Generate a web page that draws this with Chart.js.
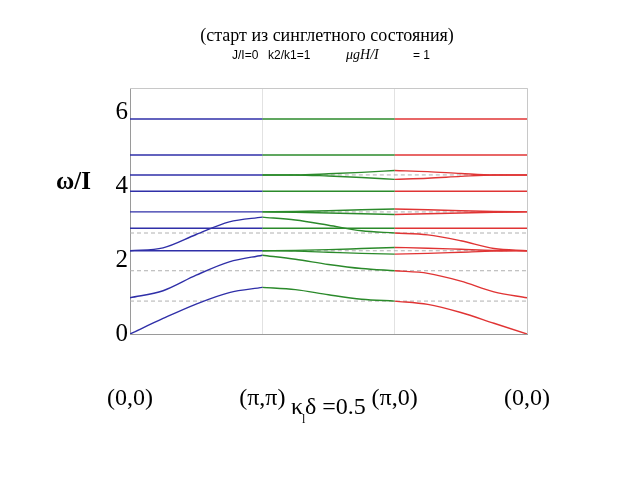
<!DOCTYPE html>
<html>
<head>
<meta charset="utf-8">
<script src="https://cdn.jsdelivr.net/npm/chart.js@4.4.1/dist/chart.umd.min.js"></script>
<style>
  html, body { margin: 0; padding: 0; background: #fff; }
  #wrap { width: 640px; height: 480px; }
</style>
</head>
<body>
<div id="wrap"><canvas id="c" width="640" height="480"></canvas></div>
<script>
// ---- data ----
const titleText = '(старт из синглетного состояния)';
const subtitleParts = ['J/I=0', 'k2/k1=1', 'μgH/I', '= 1'];
const yTitle = 'ω/I';
const kTicks = [0, 1, 2, 3];
const kLabels = ['(0,0)', '(π,π)', '(π,0)', '(0,0)'];
const yTicks = [0, 2, 4, 6];

// path positions (0..1 : (0,0)->(π,π), 1..2 : (π,π)->(π,0), 2..3 : (π,0)->(0,0))
const kPath = [0, 0.25, 0.5, 0.75, 1, 1.25, 1.5, 1.75, 2, 2.25, 2.5, 2.75, 3];
const branch1 = [0, 0.42, 0.81, 1.12, 1.26, 1.20, 1.06, 0.94, 0.89, 0.80, 0.58, 0.29, 0];
const branch2 = [0.98, 1.17, 1.59, 1.95, 2.13, 2.02, 1.88, 1.77, 1.71, 1.64, 1.43, 1.14, 0.98];
const branch3 = [2.25, 2.33, 2.69, 3.03, 3.16, 3.08, 2.94, 2.79, 2.73, 2.68, 2.52, 2.31, 2.25];

// flat levels
const flatLevels = [5.81, 4.84, 3.86, 2.86];
// levels that split between (π,π) and (0,0): path positions 1..3
const splitPath = [1, 1.25, 1.5, 1.75, 2, 2.25, 2.5, 2.75, 3];
const split43Up = [4.30, 4.30, 4.33, 4.37, 4.42, 4.39, 4.34, 4.30, 4.30];
const split43Dn = [4.30, 4.30, 4.27, 4.23, 4.18, 4.21, 4.26, 4.30, 4.30];
const split33Up = [3.30, 3.31, 3.33, 3.36, 3.38, 3.36, 3.33, 3.31, 3.30];
const split33Dn = [3.30, 3.29, 3.27, 3.25, 3.23, 3.25, 3.27, 3.29, 3.30];
const split22Up = [2.25, 2.26, 2.28, 2.31, 2.34, 2.32, 2.29, 2.26, 2.25];
const split22Dn = [2.25, 2.24, 2.21, 2.18, 2.16, 2.18, 2.21, 2.24, 2.25];
const splitLevels = [4.30, 3.30, 2.25];
// dashed reference levels
const dashedLevels = [0.89, 1.71, 2.73];

// ---- styles ----
const segColors = ['#2f2fa8', '#2b8a2b', '#e03434'];
const segBounds = [0, 1, 2, 3];

function pts(xs, ys) { return xs.map((x, i) => ({ x: x, y: ys[i] })); }
function sliceSeg(xs, ys, a, b) {
  const out = [];
  xs.forEach((x, i) => { if (x >= a && x <= b) out.push({ x: x, y: ys[i] }); });
  return out;
}

const datasets = [];
// dashed grey reference lines (behind)
dashedLevels.forEach(v => {
  datasets.push({ data: pts([0, 3], [v, v]), borderColor: '#b0b0b0', borderWidth: 1, borderDash: [4, 3], order: 20 });
});
splitLevels.forEach(v => {
  datasets.push({ data: pts([1.2, 2.85], [v, v]), borderColor: '#b0b0b0', borderWidth: 1, borderDash: [4, 3], order: 20 });
});
// coloured segments
for (let s = 0; s < 3; s++) {
  const a = segBounds[s], b = segBounds[s + 1], col = segColors[s];
  [branch1, branch2, branch3].forEach(br => {
    datasets.push({ data: sliceSeg(kPath, br, a, b), borderColor: col, borderWidth: 1.4, cubicInterpolationMode: 'monotone', order: 5 });
  });
  flatLevels.concat(s === 0 ? splitLevels : []).forEach(v => {
    datasets.push({ data: pts([a, b], [v, v]), borderColor: col, borderWidth: 1.4, order: 5 });
  });
  if (s > 0) {
    [split43Up, split43Dn, split33Up, split33Dn, split22Up, split22Dn].forEach(sp => {
      datasets.push({ data: sliceSeg(splitPath, sp, a, b), borderColor: col, borderWidth: 1.4, cubicInterpolationMode: 'monotone', order: 5 });
    });
  }
}

const textPlugin = {
  id: 'texts',
  afterDraw(chart) {
    const ctx = chart.ctx;
    const ca = chart.chartArea;
    ctx.save();
    // box (top/right borders)
    ctx.strokeStyle = '#c8c8c8';
    ctx.lineWidth = 1;
    ctx.beginPath();
    ctx.moveTo(ca.left, ca.top + 0.5); ctx.lineTo(ca.right + 0.5, ca.top + 0.5); ctx.lineTo(ca.right + 0.5, ca.bottom);
    ctx.stroke();
    ctx.fillStyle = '#000';
    ctx.textBaseline = 'alphabetic';
    ctx.textAlign = 'center';
    ctx.font = '18px "Liberation Serif"';
    ctx.fillText(titleText, 327, 41);
    ctx.textAlign = 'left';
    ctx.font = '12px "Liberation Sans"';
    ctx.fillText(subtitleParts[0], 232, 59);
    ctx.fillText(subtitleParts[1], 268, 59);
    ctx.font = 'italic 14px "Liberation Serif"';
    ctx.fillText(subtitleParts[2], 346, 59);
    ctx.font = '12px "Liberation Sans"';
    ctx.fillText(subtitleParts[3], 413, 59);
    // y title
    ctx.font = 'bold 25px "Liberation Serif"';
    ctx.fillText(yTitle, 56, 189);
    // kappa annotation
    ctx.font = '24px "Liberation Serif"';
    ctx.fillText('κ', 291, 414);
    ctx.font = '12px "Liberation Serif"';
    ctx.fillText('l', 302, 423);
    ctx.font = '24px "Liberation Serif"';
    ctx.fillText('δ =0.5', 305, 414);
    ctx.restore();
  }
};

new Chart(document.getElementById('c'), {
  type: 'line',
  data: { datasets: datasets },
  options: {
    responsive: false,
    animation: false,
    layout: { padding: { left: 0, right: 113, top: 88, bottom: 0 } },
    plugins: { legend: { display: false }, tooltip: { enabled: false }, title: { display: false } },
    elements: { point: { radius: 0 }, line: { fill: false } },
    scales: {
      x: {
        type: 'linear', min: 0, max: 3,
        afterFit(scale) { scale.height = 146; },
        afterBuildTicks(scale) { scale.ticks = kTicks.map(v => ({ value: v })); },
        ticks: {
          padding: 50, color: '#000',
          font: { family: '"Liberation Serif"', size: 24 },
          callback: (v) => { const i = kTicks.indexOf(v); return i >= 0 ? kLabels[i] : ''; },
          maxRotation: 0, autoSkip: false
        },
        grid: { color: '#e2e2e2', tickLength: 0, drawTicks: false },
        border: { color: '#9a9a9a' }
      },
      y: {
        type: 'linear', min: 0, max: 6.65,
        afterFit(scale) { scale.width = 130; },
        afterBuildTicks(scale) { scale.ticks = yTicks.map(v => ({ value: v })); },
        ticks: { padding: 2, color: '#000', font: { family: '"Liberation Serif"', size: 25 } },
        grid: { drawOnChartArea: false, drawTicks: false, tickLength: 0, color: '#9a9a9a' },
        border: { color: '#9a9a9a' }
      }
    }
  },
  plugins: [textPlugin]
});
</script>
</body>
</html>
